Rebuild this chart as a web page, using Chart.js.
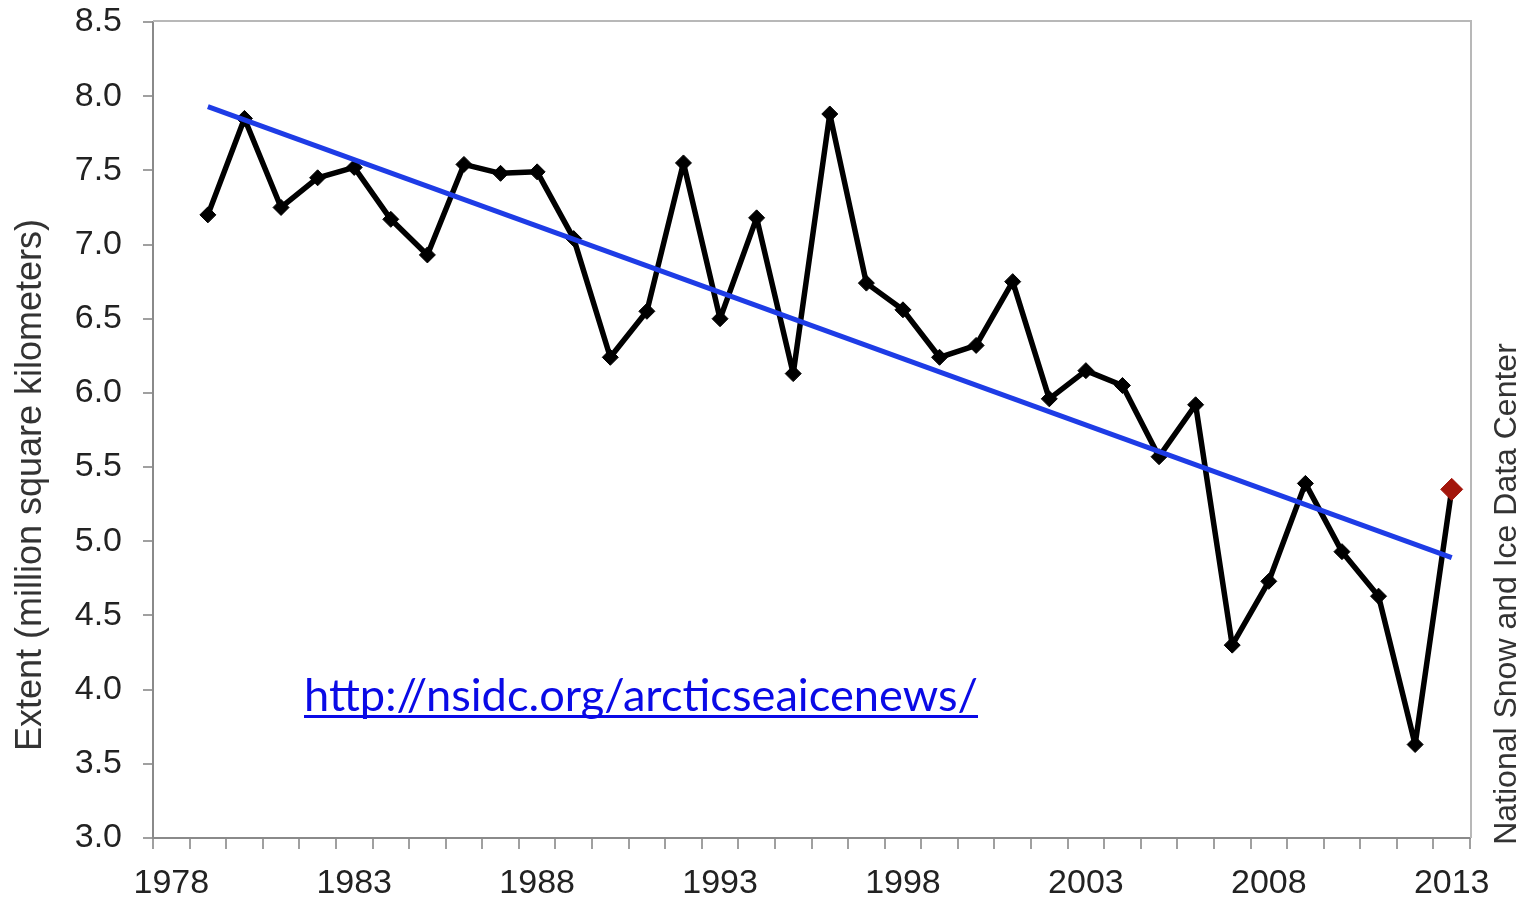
<!DOCTYPE html>
<html>
<head>
<meta charset="utf-8">
<script src="https://cdn.jsdelivr.net/npm/chart.js@4"></script>
<style>
  html, body { margin: 0; padding: 0; background: #fff; }
  #wrap { width: 1523px; height: 908px; position: relative; }
</style>
</head>
<body>
<div id="wrap"><canvas id="ice-chart"></canvas></div>
<script>
// === September sea ice extent ===

// categories (one band per year, first band has no data)
var years = ['1978', '1979', '1980', '1981', '1982', '1983', '1984', '1985', '1986',
  '1987', '1988', '1989', '1990', '1991', '1992', '1993', '1994', '1995', '1996',
  '1997', '1998', '1999', '2000', '2001', '2002', '2003', '2004', '2005', '2006',
  '2007', '2008', '2009', '2010', '2011', '2012', '2013'];

// extent, million km2, 1979 .. 2013
var extentYears = years.slice(1);
var extent = [7.20, 7.85, 7.25, 7.45, 7.52, 7.17, 6.93, 7.54, 7.48, 7.49,
  7.04, 6.24, 6.55, 7.55, 6.50, 7.18, 6.13, 7.88, 6.74, 6.56,
  6.24, 6.32, 6.75, 5.96, 6.15, 6.05, 5.57, 5.92, 4.30, 4.73,
  5.39, 4.93, 4.63, 3.63, 5.35];

// linear trend end points
var trendYears = ['1979', '2013'];
var trendValues = [7.93, 4.89];

var xTickLabels = ['1978', '1983', '1988', '1993', '1998', '2003', '2008', '2013'];
var yTicks = [3.0, 3.5, 4.0, 4.5, 5.0, 5.5, 6.0, 6.5, 7.0, 7.5, 8.0, 8.5];
var highlightYear = '2013';

var yTitle = 'Extent (million square kilometers)';
var sourceText = 'National Snow and Ice Data Center';
var urlText = 'http://nsidc.org/arcticseaicenews/';

var FONT = '"Liberation Sans", Arial, Helvetica, sans-serif';

// --- extra text and frame ---
var decorPlugin = {
  id: 'decor',
  afterDraw: function(chart) {
    var ctx = chart.ctx;
    var a = chart.chartArea;
    ctx.save();

    // top / right frame
    ctx.strokeStyle = '#b8b8b8';
    ctx.lineWidth = 2;
    ctx.beginPath();
    ctx.moveTo(a.left, a.top - 1);
    ctx.lineTo(a.right + 1, a.top - 1);
    ctx.lineTo(a.right + 1, a.bottom);
    ctx.stroke();

    // y axis title
    ctx.fillStyle = '#333';
    ctx.font = '36px ' + FONT;
    ctx.textAlign = 'center';
    ctx.textBaseline = 'middle';
    ctx.translate(31, 485);
    ctx.rotate(-Math.PI / 2);
    ctx.fillText(yTitle, 0, 0);
    ctx.setTransform(1, 0, 0, 1, 0, 0);

    // source on the right
    ctx.font = '32px ' + FONT;
    ctx.translate(1507, 594);
    ctx.rotate(-Math.PI / 2);
    ctx.fillText(sourceText, 0, 0);
    ctx.setTransform(1, 0, 0, 1, 0, 0);

    // link, stretched to the width it has in the original
    ctx.fillStyle = '#0a0ae6';
    ctx.font = '44px Lato, "Open Sans", sans-serif';
    ctx.textAlign = 'left';
    ctx.textBaseline = 'alphabetic';
    var w = ctx.measureText(urlText).width;
    ctx.translate(304, 711);
    ctx.scale(674 / w, 1);
    ctx.fillText(urlText, 0, 0);
    ctx.setTransform(1, 0, 0, 1, 0, 0);
    ctx.fillRect(304, 715, 674, 3);

    ctx.restore();
  }
};

var extentPoints = extentYears.map(function(y, i) { return { x: y, y: extent[i] }; });
var trendPoints = trendYears.map(function(y, i) { return { x: y, y: trendValues[i] }; });
var markerColors = extentYears.map(function(y) { return y === highlightYear ? '#a3150b' : '#000'; });
var markerSizes = extentYears.map(function(y) { return y === highlightYear ? 11 : 8; });

var ctx = document.getElementById('ice-chart').getContext('2d');
new Chart(ctx, {
  type: 'line',
  data: {
    labels: years,
    datasets: [{
      data: extentPoints,
      borderColor: '#000',
      borderWidth: 5.5,
      borderJoinStyle: 'round',
      pointStyle: 'rectRot',
      pointRadius: markerSizes,
      pointBackgroundColor: markerColors,
      pointBorderColor: markerColors,
      pointBorderWidth: 1,
      tension: 0,
      order: 2
    }, {
      data: trendPoints,
      borderColor: '#1e3ce6',
      borderWidth: 5,
      pointRadius: 0,
      tension: 0,
      order: 1
    }]
  },
  options: {
    responsive: true,
    maintainAspectRatio: false,
    animation: false,
    layout: { padding: { top: 22, right: 53, left: 0, bottom: 0 } },
    plugins: {
      legend: { display: false },
      tooltip: { enabled: false }
    },
    scales: {
      x: {
        type: 'category',
        offset: true,
        afterFit: function(s) {
          s.height = 70;
          s.paddingLeft = 0;
          s.paddingRight = 0;
        },
        border: { display: true, color: '#8a8a8a', width: 2 },
        grid: {
          offset: true,
          drawOnChartArea: false,
          drawTicks: true,
          tickLength: 11,
          color: '#a0a0a0',
          lineWidth: 2
        },
        ticks: {
          autoSkip: false,
          maxRotation: 0,
          padding: 14,
          color: '#222',
          font: { family: FONT, size: 34 },
          callback: function(v) {
            var lab = this.getLabelForValue(v);
            return xTickLabels.indexOf(lab) >= 0 ? lab : '';
          }
        }
      },
      y: {
        min: yTicks[0],
        max: yTicks[yTicks.length - 1],
        afterFit: function(s) {
          s.width = 153;
          s.paddingTop = 0;
          s.paddingBottom = 0;
        },
        afterBuildTicks: function(s) {
          s.ticks = yTicks.map(function(v) { return { value: v }; });
        },
        border: { display: true, color: '#8a8a8a', width: 2 },
        grid: {
          drawOnChartArea: false,
          drawTicks: true,
          tickLength: 10,
          color: '#a0a0a0',
          lineWidth: 2
        },
        ticks: {
          padding: 21,
          color: '#222',
          font: { family: FONT, size: 34 },
          callback: function(v) { return Number(v).toFixed(1); }
        }
      }
    }
  },
  plugins: [decorPlugin]
});
</script>
</body>
</html>
